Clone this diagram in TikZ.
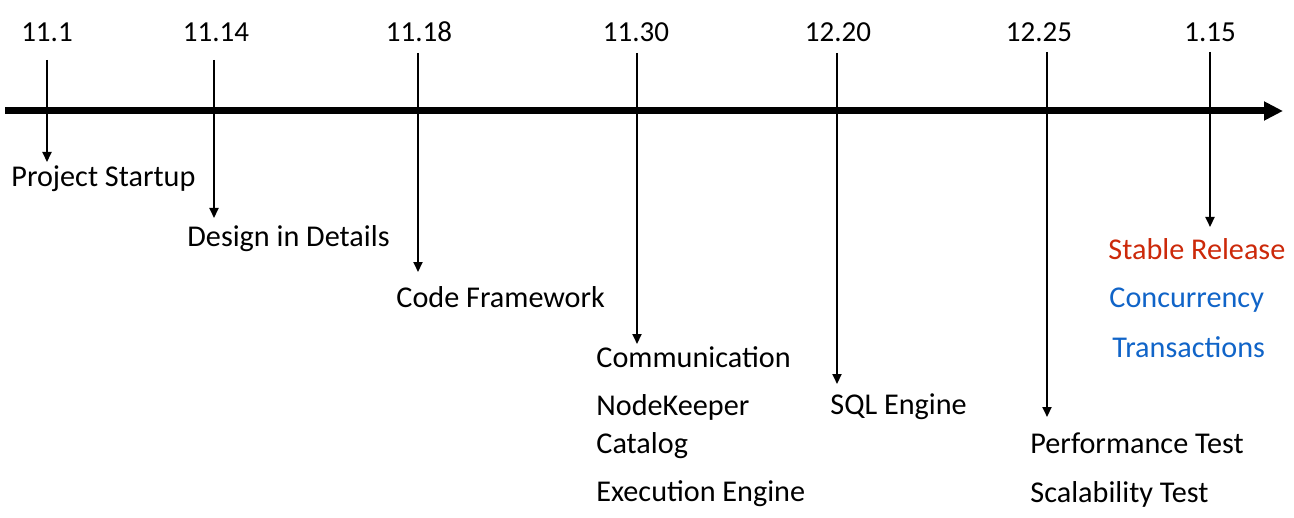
\documentclass[tikz,border=0pt]{standalone}
\usepackage{fontspec}
\setmainfont{Carlito}
\usetikzlibrary{arrows.meta}
\definecolor{relred}{RGB}{204,41,10}
\definecolor{featblue}{RGB}{16,100,200}
\begin{document}
\begin{tikzpicture}[x=0.5pt,y=-0.5pt,
  txt/.style={font=\fontsize{15.1}{17}\selectfont, inner sep=0pt},
  lbl/.style={txt, anchor=base west},
  date/.style={font=\fontsize{14.5}{16}\selectfont, inner sep=0pt, anchor=base},
  tick/.style={line width=1pt, -{Triangle[width=4.5pt,length=5pt]}},
  axis/.style={line width=3.5pt, -{Triangle[width=9pt,length=9.5pt]}}]
\useasboundingbox (0,0) rectangle (1294,518);
% axis
\coordinate (axs) at (5,111);
\coordinate (axe) at (1283,111);
\draw[axis] (axs) -- (axe);
% dates
\node[date] (d1) at (47,42) {11.1};
\node[date] (d2) at (216,42) {11.14};
\node[date] (d3) at (419,42) {11.18};
\node[date] (d4) at (636,42) {11.30};
\node[date] (d5) at (838,42) {12.20};
\node[date] (d6) at (1039,42) {12.25};
\node[date] (d7) at (1210,42) {1.15};
% tick coordinates
\coordinate (s1) at (47,60);   \coordinate (e1) at (47,162);
\coordinate (s2) at (214,60);  \coordinate (e2) at (214,218);
\coordinate (s3) at (418,53);  \coordinate (e3) at (418,272);
\coordinate (s4) at (637,53);  \coordinate (e4) at (637,344);
\coordinate (s5) at (837,53);  \coordinate (e5) at (837,384);
\coordinate (s6) at (1047,52); \coordinate (e6) at (1047,417);
\coordinate (s7) at (1210,52); \coordinate (e7) at (1210,227);
\draw[tick] (s1) -- (e1);
\draw[tick] (s2) -- (e2);
\draw[tick] (s3) -- (e3);
\draw[tick] (s4) -- (e4);
\draw[tick] (s5) -- (e5);
\draw[tick] (s6) -- (e6);
\draw[tick] (s7) -- (e7);
% labels
\node[lbl] (ps) at (11,187) {Project Startup};
\node[lbl] (dd) at (187,247) {Design in Details};
\node[lbl] (cf) at (396,307) {Code Framework};
\node[lbl] (cm) at (596,367) {Communication};
\node[lbl] (nk) at (596,415) {NodeKeeper};
\node[lbl] (ct) at (596,453) {Catalog};
\node[lbl] (ee) at (596,501) {Execution Engine};
\node[lbl] (sq) at (830,414) {SQL Engine};
\node[lbl] (pt) at (1030,453) {Performance Test};
\node[lbl] (st) at (1030,502) {Scalability Test};
\node[lbl, text=relred] (sr) at (1108,259) {Stable Release};
\node[lbl, text=featblue] (cc) at (1109,307) {Concurrency};
\node[lbl, text=featblue] (tr) at (1112,357) {Transactions};
\end{tikzpicture}
\end{document}
